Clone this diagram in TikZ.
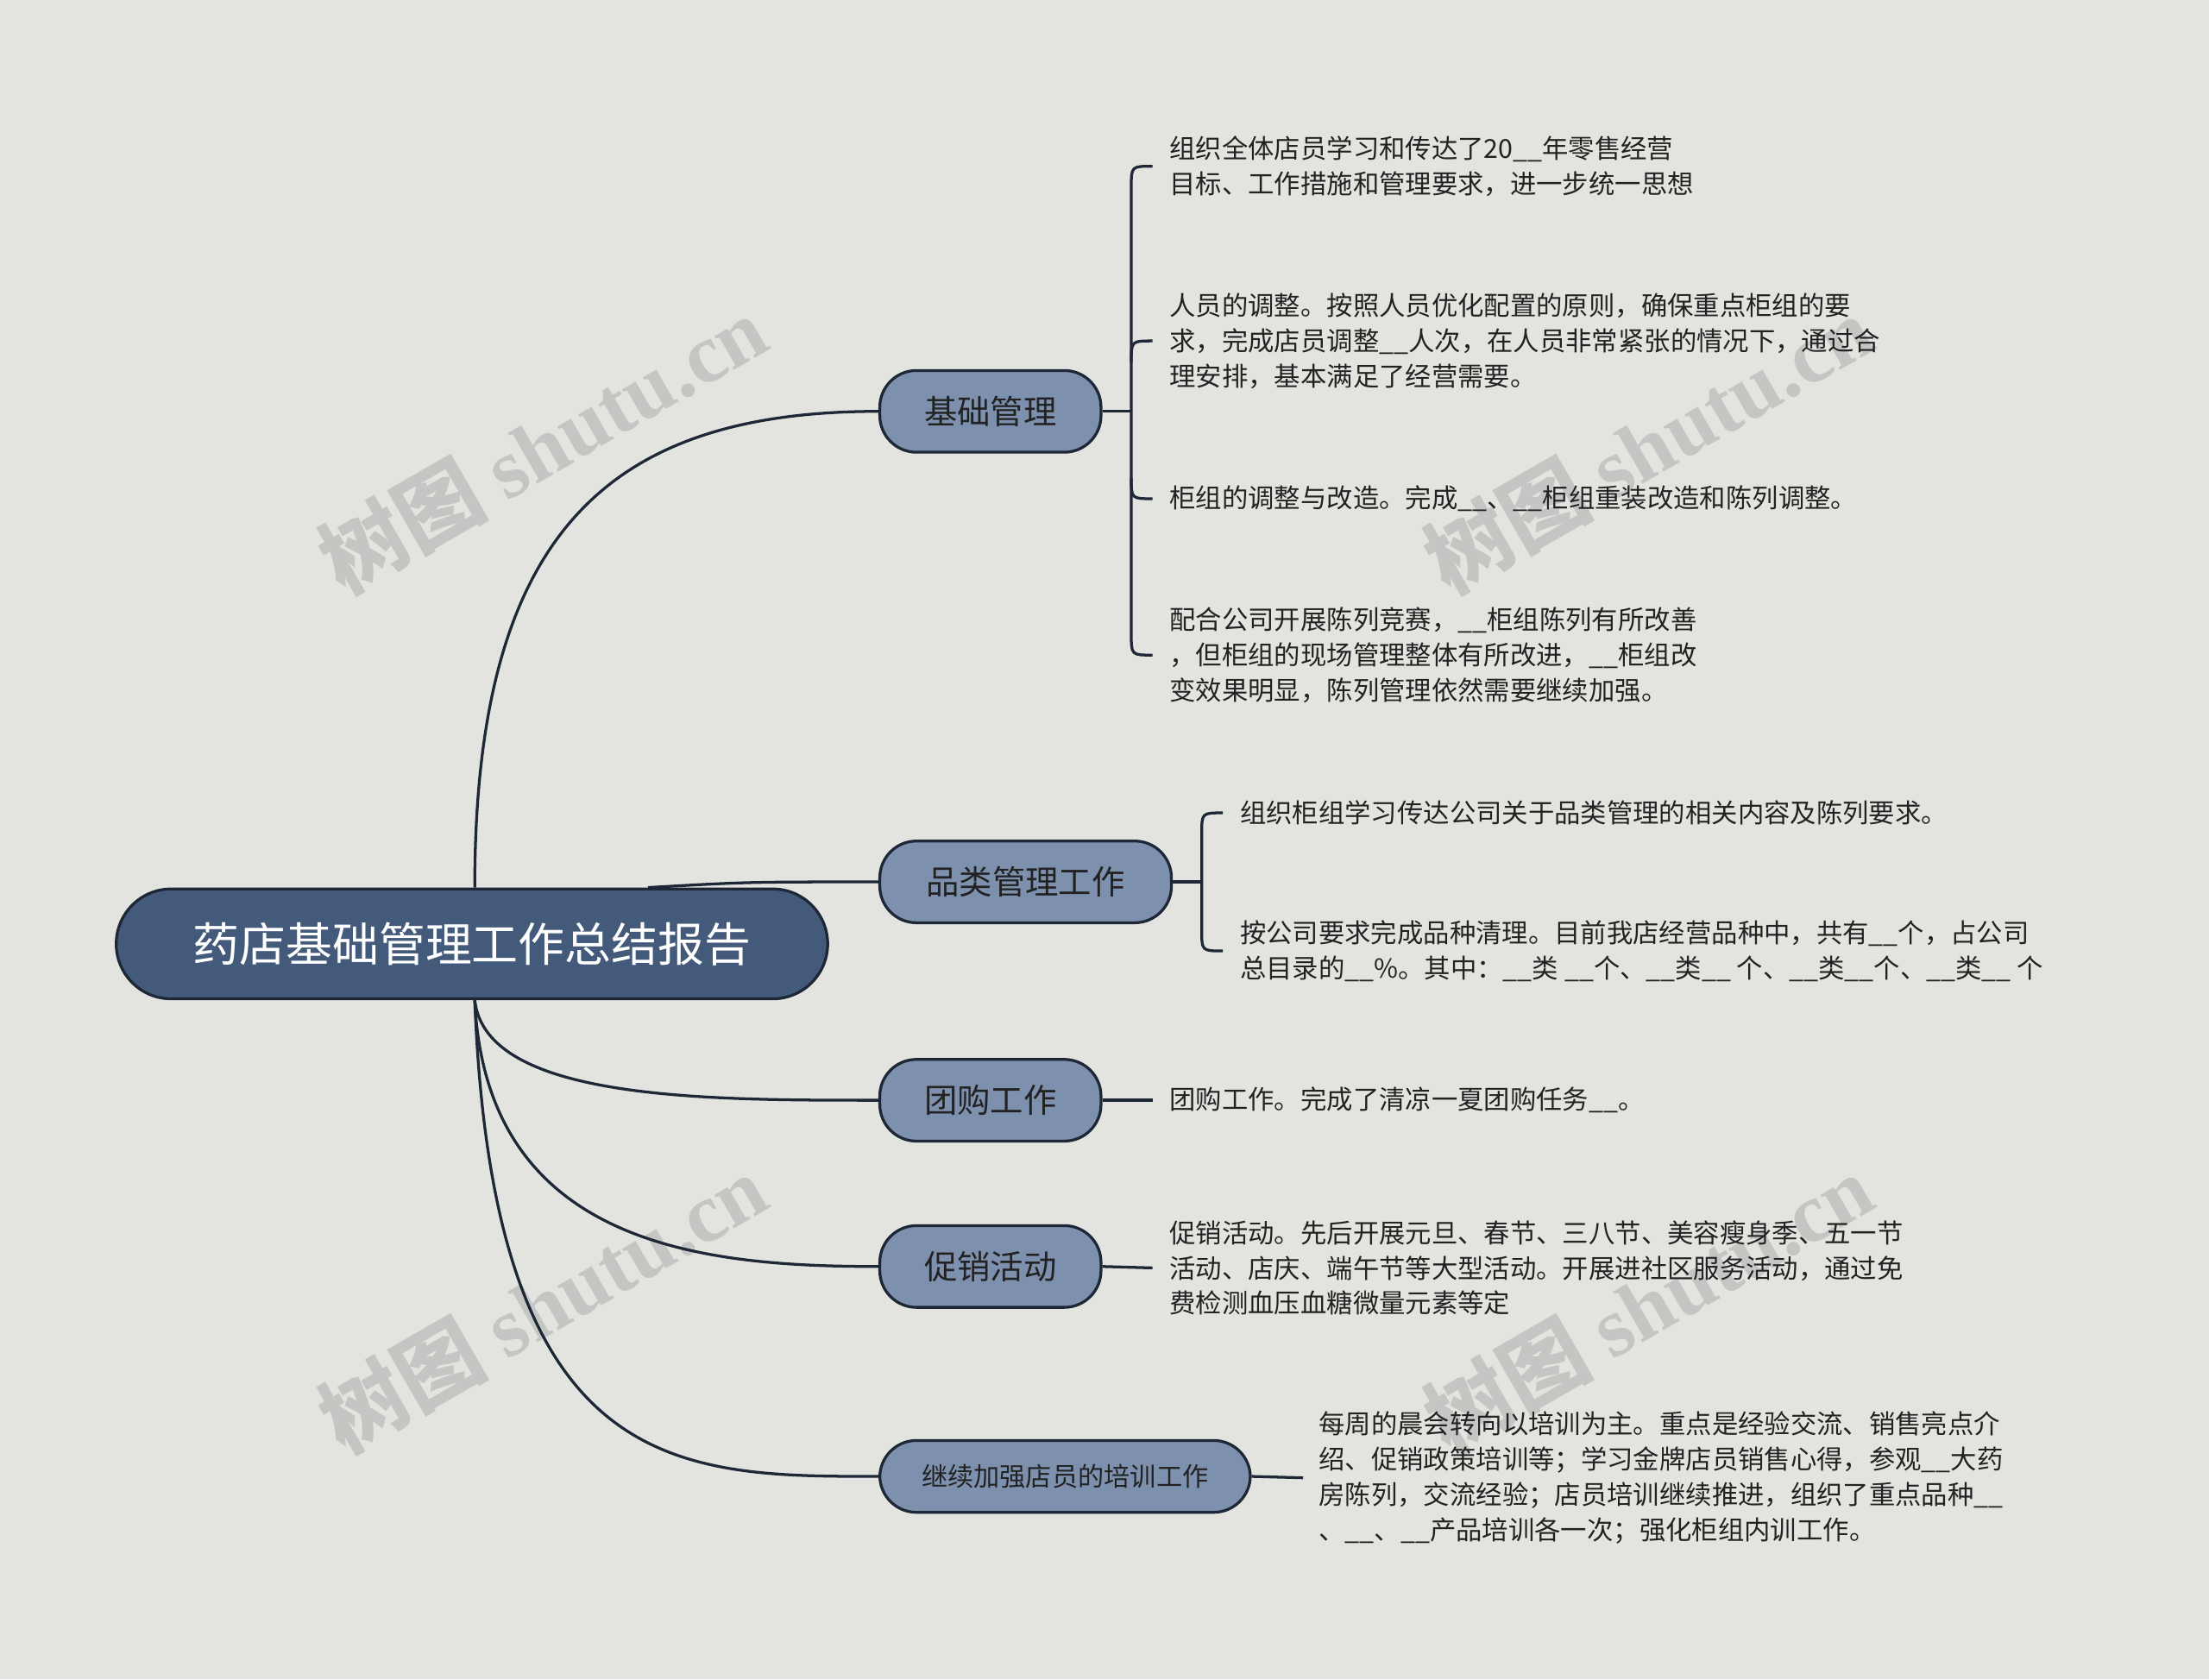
\documentclass[tikz,border=0pt]{standalone}
\usepackage{fontspec}
\setmainfont{Noto Sans CJK SC}
\newfontfamily\wmlat{Liberation Serif}
\usetikzlibrary{calc}
\definecolor{bg}{HTML}{E3E4E0}
\definecolor{rootc}{HTML}{435A7A}
\definecolor{brc}{HTML}{7D90AE}
\definecolor{ln}{HTML}{1E2736}
\definecolor{tx}{HTML}{222222}
\tikzset{
 rootbox/.style={draw=ln,line width=2pt,fill=rootc,rounded corners=39pt,minimum width=505pt,minimum height=78pt,text=white,font=\fontsize{33}{36}\selectfont},
 brbox/.style={draw=ln,line width=2pt,fill=brc,rounded corners=26pt,minimum height=58pt,inner xsep=14pt,text=tx,font=\fontsize{23.5}{26}\selectfont},
 leaf/.style={anchor=west,inner sep=0pt,align=left,text=tx,font=\fontsize{18.6}{25}\selectfont},
 conn/.style={draw=ln,line width=2pt},
 wm/.style={text=gray!60,opacity=0.6,rotate=30,font=\fontsize{60}{64}\selectfont\bfseries}
}
\begin{document}
\begin{tikzpicture}[x=1pt,y=-1pt]
\fill[bg] (0,0) rectangle (1568,1192);
\useasboundingbox (0,0) rectangle (1568,1192);
\node[wm] (w1) at (385,315) {树图 {\wmlat shutu.cn}};
\node[wm] (w2) at (1170,315) {树图 {\wmlat shutu.cn}};
\node[wm] (w3) at (385,925) {树图 {\wmlat shutu.cn}};
\node[wm] (w4) at (1170,925) {树图 {\wmlat shutu.cn}};

\node[rootbox] (root) at (335,670) {药店基础管理工作总结报告};
\node[brbox,minimum width=157pt] (b1) at (703,292) {基础管理};
\node[brbox,minimum width=207pt] (b2) at (728,626) {品类管理工作};
\node[brbox,minimum width=157pt] (b3) at (703,781) {团购工作};
\node[brbox,minimum width=157pt] (b4) at (703,899) {促销活动};
\node[brbox,minimum width=263pt,minimum height=51pt,font=\fontsize{18.5}{22}\selectfont] (b5) at (756,1048) {继续加强店员的培训工作};

\coordinate (r1) at ($(root.north)+(2,0)$);
\coordinate (r2) at ($(root.north)+(125,0)$);
\coordinate (r3) at ($(root.south)+(2,0)$);
\draw[conn] (r1) .. controls (337,380) and (430,292) .. (b1.west);
\draw[conn] (r2) .. controls (530,626) .. (b2.west);
\draw[conn] (r3) .. controls (345,781) and (500,781) .. (b3.west);
\draw[conn] (r3) .. controls (345,885) and (500,899) .. (b4.west);
\draw[conn] (r3) .. controls (350,1048) and (480,1048) .. (b5.west);

% leaves
\node[leaf] (l1) at (830,118) {组织全体店员学习和传达了20\_\_年零售经营\\目标、工作措施和管理要求，进一步统一思想};
\node[leaf] (l2) at (830,242) {人员的调整。按照人员优化配置的原则，确保重点柜组的要\\求，完成店员调整\_\_人次，在人员非常紧张的情况下，通过合\\理安排，基本满足了经营需要。};
\node[leaf] (l3) at (830,354) {柜组的调整与改造。完成\_\_、\_\_柜组重装改造和陈列调整。};
\node[leaf] (l4) at (830,465) {配合公司开展陈列竞赛，\_\_柜组陈列有所改善\\，但柜组的现场管理整体有所改进，\_\_柜组改\\变效果明显，陈列管理依然需要继续加强。};
\node[leaf] (l5) at (880,577) {组织柜组学习传达公司关于品类管理的相关内容及陈列要求。};
\node[leaf] (l6) at (880,675) {按公司要求完成品种清理。目前我店经营品种中，共有\_\_个，占公司\\总目录的\_\_\%。其中：\_\_类 \_\_个、\_\_类\_\_ 个、\_\_类\_\_个、\_\_类\_\_ 个};
\node[leaf] (l7) at (830,781) {团购工作。完成了清凉一夏团购任务\_\_。};
\node[leaf] (l8) at (830,900) {促销活动。先后开展元旦、春节、三八节、美容瘦身季、五一节\\活动、店庆、端午节等大型活动。开展进社区服务活动，通过免\\费检测血压血糖微量元素等定};
\node[leaf] (l9) at (936,1049) {每周的晨会转向以培训为主。重点是经验交流、销售亮点介\\绍、促销政策培训等；学习金牌店员销售心得，参观\_\_大药\\房陈列，交流经验；店员培训继续推进，组织了重点品种\_\_\\、\_\_、\_\_产品培训各一次；强化柜组内训工作。};

% braces for b1
\coordinate (k1) at (803,292);
\draw[conn] (b1.east) -- (k1);
\draw[conn] ($(l1.west)+(-12,0)$) .. controls (803,118) .. (803,133) -- (803,450) .. controls (803,465) .. ($(l4.west)+(-12,0)$);
\draw[conn] (803,257) .. controls (803,242) .. ($(l2.west)+(-12,0)$);
\draw[conn] (803,339) .. controls (803,354) .. ($(l3.west)+(-12,0)$);
% braces for b2
\coordinate (k2) at (853,626);
\draw[conn] (b2.east) -- (k2);
\draw[conn] ($(l5.west)+(-12,0)$) .. controls (853,577) .. (853,592) -- (853,660) .. controls (853,675) .. ($(l6.west)+(-12,0)$);
% single
\draw[conn] (b3.east) -- ($(l7.west)+(-12,0)$);
\draw[conn] (b4.east) -- ($(l8.west)+(-12,0)$);
\draw[conn] (b5.east) -- ($(l9.west)+(-11,0)$);
\end{tikzpicture}
\end{document}
